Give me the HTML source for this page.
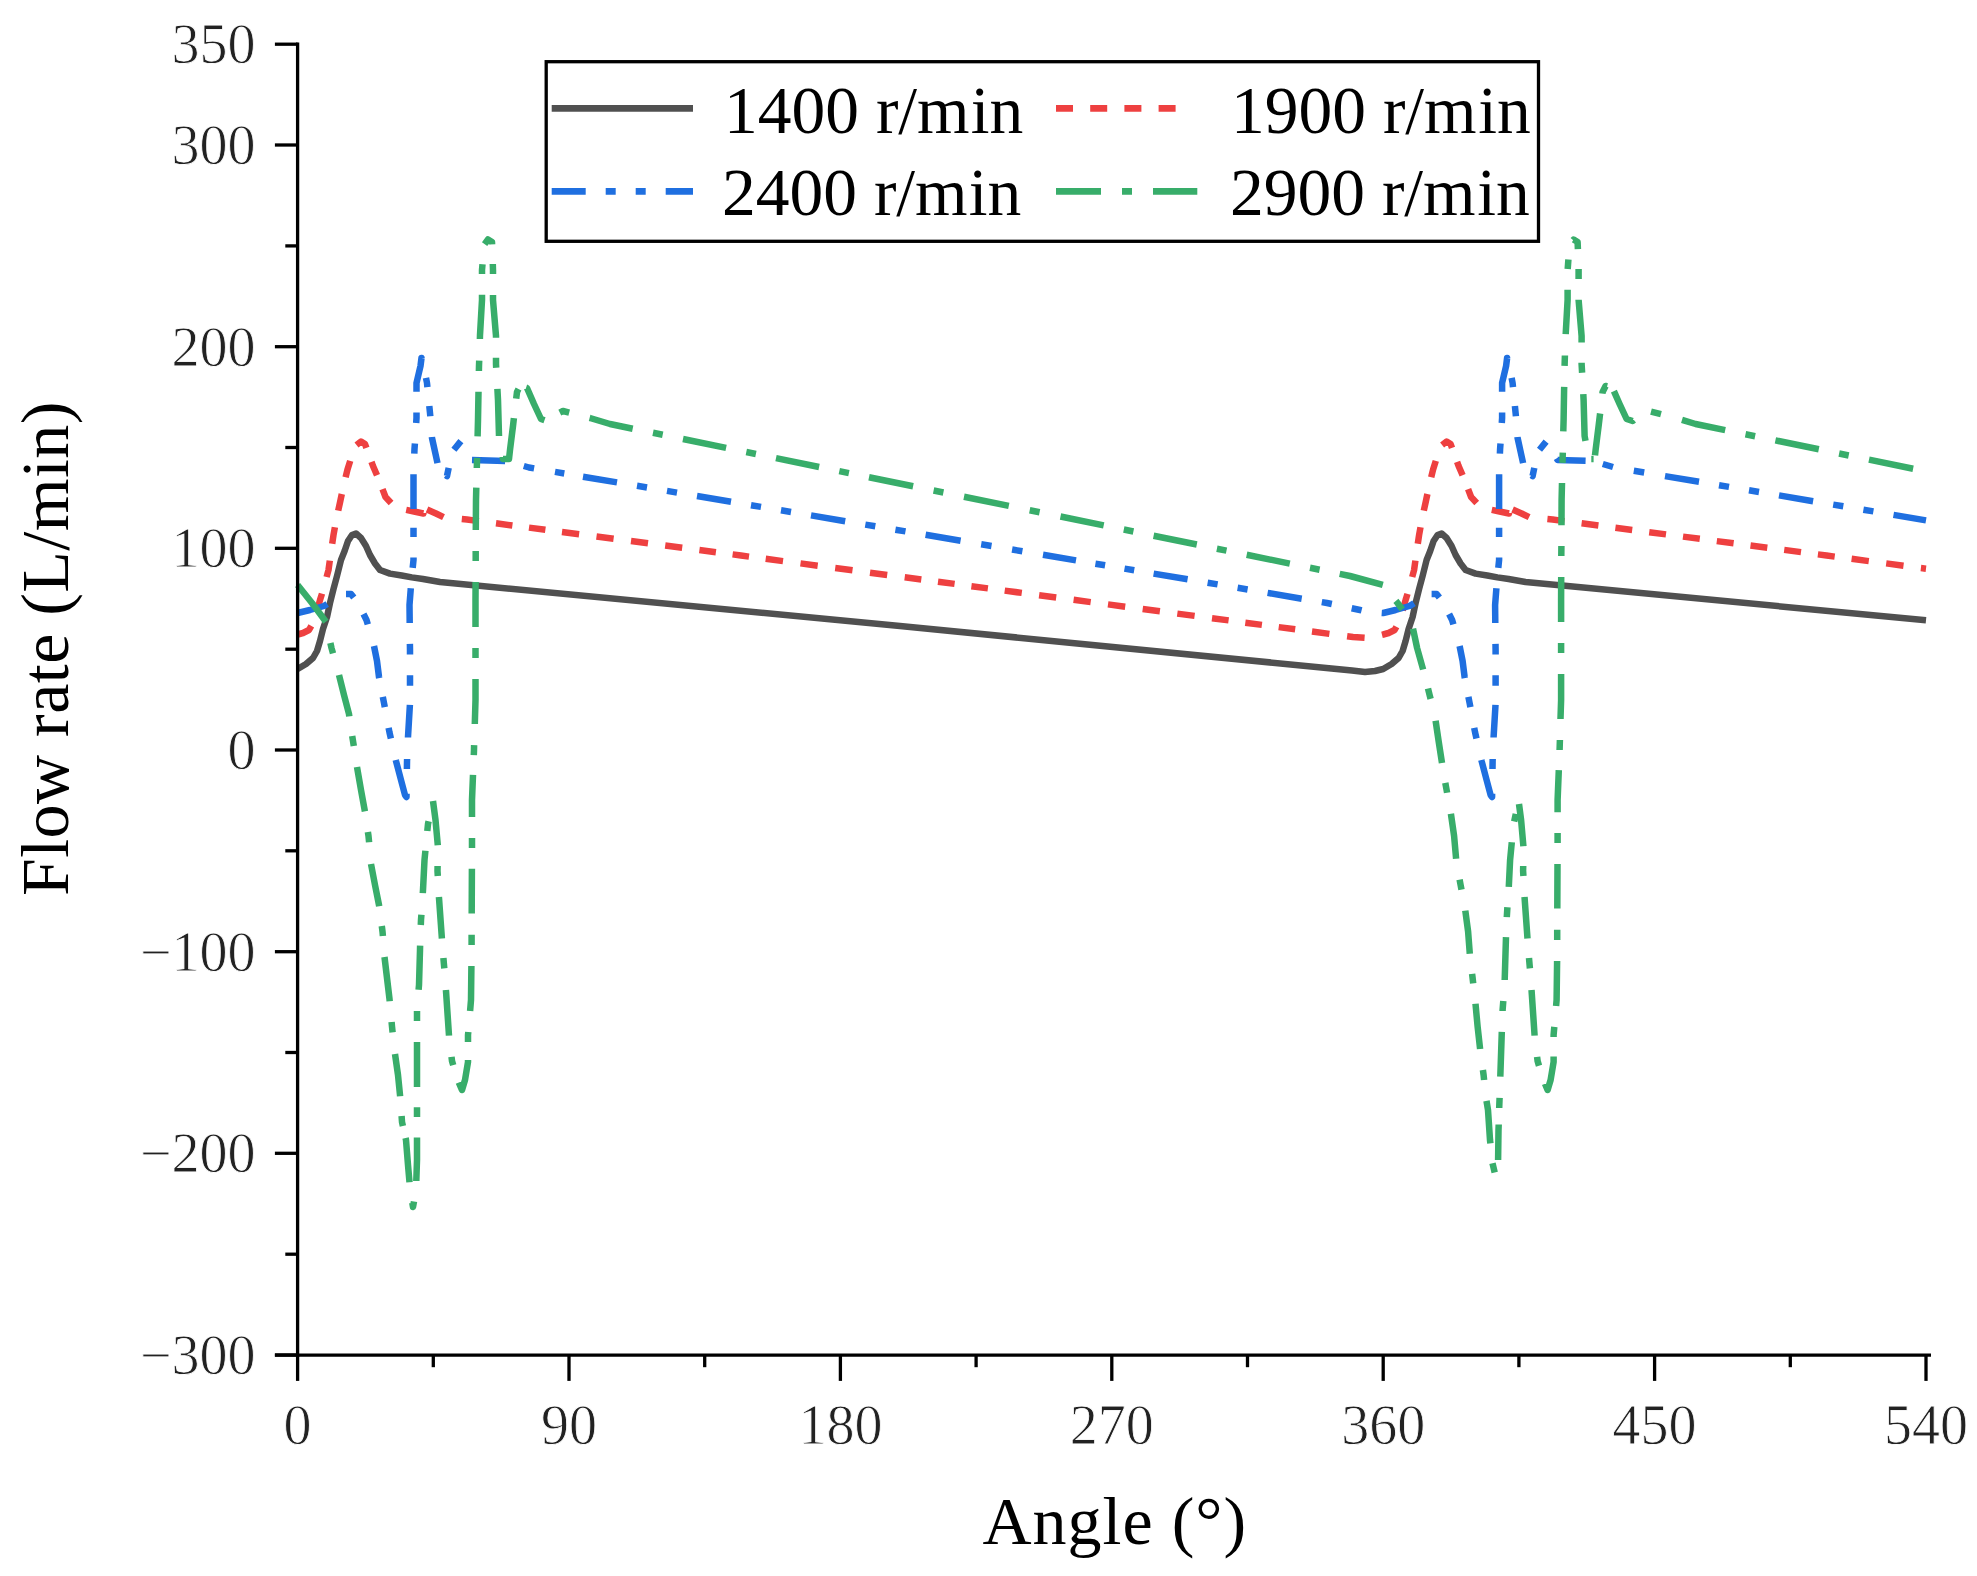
<!DOCTYPE html>
<html><head><meta charset="utf-8"><title>Flow rate vs Angle</title>
<style>html,body{margin:0;padding:0;background:#fff;}body{width:1977px;height:1576px;overflow:hidden;}svg{display:block;}</style>
</head><body>
<svg width="1977" height="1576" viewBox="0 0 1977 1576">
<rect width="1977" height="1576" fill="#fff"/>
<g><path d="M297.6 669.0 L306.0 664.0 L313.0 658.0 L317.0 651.0 L320.0 641.0 L323.0 629.0 L327.0 617.0 L330.0 603.0 L333.5 589.0 L337.0 576.0 L341.0 560.0 L344.6 551.0 L348.0 541.0 L352.0 535.0 L356.0 533.5 L361.0 538.0 L366.0 546.0 L370.0 555.0 L375.0 563.5 L380.0 570.0 L390.0 573.6 L401.7 575.5 L411.8 577.4 L423.0 579.0 L440.0 582.0 L900.0 626.0 L1352.0 670.5 L1365.0 672.0 L1375.0 671.0 L1383.2 669.0 L1391.6 664.0 L1398.6 658.0 L1402.6 651.0 L1405.6 641.0 L1408.6 629.0 L1412.6 617.0 L1415.6 603.0 L1419.1 589.0 L1422.6 576.0 L1426.6 560.0 L1430.2 551.0 L1433.6 541.0 L1437.6 535.0 L1441.6 533.5 L1446.6 538.0 L1451.6 546.0 L1455.6 555.0 L1460.6 563.5 L1465.6 570.0 L1475.6 573.6 L1487.3 575.5 L1497.4 577.4 L1508.6 579.0 L1525.6 582.0 L1926.0 620.3" fill="none" stroke="#505050" stroke-width="6.5" stroke-linejoin="round"/>
<path d="M297.6 634.5 L303.0 633.0 L309.0 630.0 L311.3 625.9 M317.3 609.9 L320.0 600.0 L322.0 593.6 M326.6 577.0 L328.5 570.0 L329.8 560.6 M332.2 543.8 L333.5 535.0 L334.9 527.2 M338.2 510.6 L340.0 502.5 L341.8 494.0 M345.6 477.3 L347.5 469.5 L350.2 460.9 M356.5 445.0 L361.0 441.5 L365.0 444.0 L366.4 447.9 M371.5 461.8 L373.0 466.0 L377.0 475.3 M382.5 489.1 L385.5 497.0 L391.1 503.0 M406.2 509.9 L414.0 511.5 L423.4 513.5 L423.5 512.7 M427.0 509.5 L436.0 513.5 L443.5 517.2 M461.8 519.0 L467.0 519.5 L478.8 521.1 M496.0 523.3 L512.4 525.5 M529.0 527.6 L545.4 529.8 M562.0 532.0 L579.1 534.2 M596.5 536.5 L613.6 538.8 M631.0 541.0 L648.0 543.3 M665.2 545.5 L682.2 547.8 M699.4 550.0 L715.9 552.2 M732.6 554.4 L741.0 555.5 L749.0 556.6 M765.7 558.8 L783.0 561.1 M800.5 563.4 L817.7 565.7 M835.2 568.0 L852.5 570.3 M870.0 572.7 L887.2 575.0 M904.7 577.3 L921.3 579.5 M938.0 581.7 L954.6 583.9 M971.4 586.2 L987.9 588.4 M1004.7 590.6 L1021.8 592.9 M1039.1 595.2 L1056.2 597.5 M1073.6 599.8 L1090.7 602.1 M1108.0 604.4 L1125.2 606.7 M1142.7 609.0 L1159.9 611.3 M1177.3 613.6 L1194.6 615.9 M1212.0 618.2 L1228.6 620.4 M1245.3 622.7 L1261.9 624.9 M1278.7 627.1 L1295.2 629.3 M1312.0 631.5 L1329.4 633.9 M1347.1 636.2 L1353.0 637.0 L1364.6 637.8 M1382.0 634.8 L1383.2 634.5 L1388.6 633.0 L1394.6 630.0 L1396.4 626.7 M1402.7 610.5 L1405.6 600.0 L1407.5 593.9 M1412.2 577.0 L1414.1 570.0 L1415.4 560.6 M1417.8 543.8 L1419.1 535.0 L1420.5 527.2 M1423.8 510.6 L1425.6 502.5 L1427.4 494.0 M1431.2 477.3 L1433.1 469.5 L1435.8 460.9 M1442.1 445.0 L1446.6 441.5 L1450.6 444.0 L1452.0 447.9 M1457.1 461.8 L1458.6 466.0 L1462.6 475.3 M1468.1 489.1 L1471.1 497.0 L1476.7 503.0 M1491.8 509.9 L1499.6 511.5 L1509.0 513.5 L1509.1 512.7 M1512.6 509.5 L1521.6 513.5 L1529.1 517.2 M1547.4 519.0 L1552.6 519.5 L1564.4 521.1 M1581.6 523.3 L1598.4 525.5 M1615.4 527.8 L1632.2 530.0 M1649.2 532.2 L1666.0 534.4 M1683.0 536.6 L1699.8 538.8 M1716.8 541.1 L1733.6 543.3 M1750.5 545.5 L1767.3 547.7 M1784.2 549.9 L1801.0 552.1 M1817.9 554.4 L1826.6 555.5 L1834.7 556.6 M1851.6 558.8 L1868.8 561.1 M1886.2 563.4 L1903.5 565.7 M1920.9 568.1 L1926.0 568.7 L1926.0 568.7" fill="none" stroke="#ee4040" stroke-width="6.5" stroke-linejoin="round"/>
<path d="M297.6 613.0 L310.0 610.0 L324.0 606.0 L327.2 604.0 M346.0 594.0 L351.0 594.0 L353.8 597.6 M363.5 614.0 L366.5 620.0 L367.8 624.4 M374.0 646.0 L377.0 661.0 L379.0 677.0 L379.2 678.1 M382.8 696.8 L384.0 703.0 L384.8 707.2 M388.6 727.9 L389.5 732.5 L390.9 738.6 M395.8 760.0 L396.0 761.0 L401.0 780.0 L405.0 795.0 L406.5 797.0 L406.5 793.7 M406.9 769.0 L407.0 762.0 L407.1 759.0 M408.0 737.4 L408.0 737.0 L409.9 704.9 M410.0 685.7 L410.0 675.3 M410.0 654.4 L410.0 650.0 L409.9 643.9 M409.7 623.0 L409.5 605.0 L410.8 588.3 M412.7 567.9 L413.5 560.0 L413.5 557.6 M413.5 537.0 L413.5 527.7 M413.5 509.0 L413.5 475.0 L413.5 474.2 M414.3 453.7 L414.5 449.0 L414.9 443.5 M416.2 423.0 L416.5 418.0 L416.5 412.6 M416.5 391.8 L416.5 383.0 L420.5 366.0 L421.5 358.0 L421.5 358.1 M426.0 377.8 L427.0 383.0 L427.4 387.1 M429.3 406.0 L430.0 413.0 L430.3 416.3 M431.9 437.0 L432.0 438.0 L437.5 463.1 M445.9 475.2 L447.0 476.0 L448.7 467.9 M453.9 449.7 L460.9 441.1 M472.0 460.0 L505.1 460.9 M523.8 466.0 L529.0 467.5 L534.1 468.4 M555.0 471.9 L564.3 473.5 M583.0 476.7 L617.0 482.4 M637.0 485.8 L647.0 487.5 M667.0 490.9 L677.0 492.6 M697.0 496.0 L731.0 501.8 M751.0 505.2 L761.0 506.9 M781.0 510.3 L791.0 512.0 M811.0 515.4 L845.2 521.2 M865.3 524.6 L875.3 526.3 M895.4 529.7 L905.5 531.4 M925.6 534.8 L960.6 540.8 M981.2 544.3 L991.5 546.0 M1012.1 549.5 L1022.4 551.3 M1043.0 554.8 L1076.0 560.4 M1095.4 563.7 L1105.1 565.3 M1124.5 568.6 L1134.2 570.3 M1153.6 573.6 L1187.6 579.3 M1207.6 582.7 L1217.6 584.4 M1237.6 587.8 L1247.6 589.5 M1267.6 592.9 L1301.7 598.7 M1321.8 602.1 L1327.0 603.0 L1331.8 604.0 M1351.7 608.2 L1360.0 610.0 L1361.6 610.4 M1381.7 612.9 L1383.2 613.0 L1395.6 610.0 L1409.6 606.0 L1414.0 603.2 M1431.6 594.0 L1436.6 594.0 L1439.4 597.6 M1449.1 614.0 L1452.1 620.0 L1453.4 624.4 M1459.6 646.0 L1462.6 661.0 L1464.6 677.0 L1464.8 678.1 M1468.4 696.8 L1469.6 703.0 L1470.4 707.2 M1474.2 727.9 L1475.1 732.5 L1476.5 738.6 M1481.4 760.0 L1481.6 761.0 L1486.6 780.0 L1490.6 795.0 L1492.1 797.0 L1492.1 793.7 M1492.5 769.0 L1492.6 762.0 L1492.7 759.0 M1493.6 737.4 L1493.6 737.0 L1495.5 704.9 M1495.6 685.7 L1495.6 675.3 M1495.6 654.4 L1495.6 650.0 L1495.5 643.9 M1495.3 623.0 L1495.1 605.0 L1496.4 588.3 M1498.3 567.9 L1499.1 560.0 L1499.1 557.6 M1499.1 537.0 L1499.1 527.7 M1499.1 509.0 L1499.1 475.0 L1499.1 474.2 M1499.9 453.7 L1500.1 449.0 L1500.5 443.5 M1501.8 423.0 L1502.1 418.0 L1502.1 412.6 M1502.1 391.8 L1502.1 383.0 L1506.1 366.0 L1507.1 358.0 L1507.1 358.1 M1511.6 377.8 L1512.6 383.0 L1513.0 387.1 M1514.9 406.0 L1515.6 413.0 L1515.9 416.3 M1517.5 437.0 L1517.6 438.0 L1523.1 463.1 M1531.5 475.2 L1532.6 476.0 L1534.3 467.9 M1539.5 449.7 L1546.1 441.6 M1556.6 458.4 L1557.6 460.0 L1585.6 460.8 M1602.8 464.0 L1613.0 467.0 M1633.8 470.8 L1644.2 472.5 M1665.0 476.1 L1699.0 481.8 M1719.0 485.2 L1729.0 486.9 M1749.0 490.3 L1759.0 492.0 M1779.0 495.4 L1813.1 501.2 M1833.2 504.6 L1843.3 506.3 M1863.4 509.7 L1873.4 511.4 M1893.5 514.9 L1926.0 520.4" fill="none" stroke="#1f6fe0" stroke-width="6.5" stroke-linejoin="round"/>
<path d="M297.6 585.0 L312.0 603.0 L325.9 621.8 M330.4 643.0 L331.5 648.0 L333.0 653.4 M339.0 675.0 L344.0 695.0 L349.0 714.0 L349.3 716.3 M352.2 735.9 L353.0 741.0 L353.8 745.9 M357.0 767.0 L361.0 790.0 L364.9 811.3 M367.9 832.0 L368.5 836.0 L369.1 842.3 M371.0 864.0 L375.0 885.0 L379.0 905.0 L379.2 906.2 M381.8 926.0 L382.5 931.5 L382.9 936.0 M384.5 957.0 L387.0 978.0 L389.5 999.0 L389.7 1001.3 M391.6 1022.0 L392.0 1026.5 L392.6 1032.3 M395.0 1054.0 L398.0 1075.0 L400.0 1095.0 L400.1 1096.2 M401.6 1116.0 L402.0 1122.0 L402.9 1125.9 M405.6 1138.0 L406.0 1140.0 L408.0 1165.0 L409.5 1182.2 M412.3 1202.7 L413.0 1207.0 L414.0 1201.5 M416.3 1181.0 L417.0 1160.0 L417.0 1137.4 M417.0 1117.0 L417.0 1107.3 M417.0 1087.0 L417.0 1042.0 M417.0 1021.0 L417.0 1010.9 M418.6 989.7 L419.0 985.0 L420.0 950.0 L420.1 945.6 M420.8 925.0 L421.0 920.0 L421.4 914.7 M422.8 893.1 L423.0 890.0 L424.5 860.0 L425.4 850.7 M427.3 831.0 L428.0 824.0 L428.6 821.3 M433.0 801.0 L435.5 820.0 L437.8 845.2 M437.6 866.0 L437.5 871.0 L437.8 876.0 M438.9 897.0 L439.0 898.0 L441.9 938.6 M443.4 958.0 L444.0 965.0 L444.3 968.4 M445.9 990.0 L446.0 991.0 L449.0 1035.6 M451.5 1056.8 L452.0 1061.0 L453.2 1065.2 M458.8 1082.4 L462.0 1090.0 L465.0 1080.0 L468.0 1062.0 L468.0 1060.1 M468.0 1042.0 L468.0 1035.0 L468.3 1032.0 M470.1 1010.9 L471.0 1000.0 L471.4 966.0 M471.6 945.0 L471.6 934.8 M471.7 913.5 L471.9 868.8 M472.0 848.0 L472.0 838.0 M472.0 817.0 L472.0 800.0 L473.0 774.8 M473.8 755.1 L474.0 750.0 L474.1 745.1 M474.8 724.0 L475.5 700.0 L475.5 679.0 M475.5 658.0 L475.5 648.0 M475.5 627.0 L475.5 600.0 L475.6 582.0 M475.7 561.0 L475.7 551.0 M475.8 530.0 L476.0 500.0 L476.3 487.7 M476.8 468.0 L477.1 457.8 M477.6 436.4 L478.0 420.0 L478.5 391.8 M478.9 371.0 L479.0 366.0 L479.2 360.7 M479.9 339.0 L480.0 335.0 L482.0 300.0 L482.0 294.7 M482.0 274.0 L482.0 270.0 L482.5 264.3 M484.6 244.2 L488.0 239.5 L492.0 242.0 L492.1 244.4 M492.8 264.0 L493.0 270.0 L493.0 274.0 M493.0 295.0 L493.0 300.0 L496.0 336.0 L496.0 337.7 M496.0 357.7 L496.0 364.0 L496.2 367.7 M497.4 388.8 L498.0 400.0 L499.0 436.0 M502.6 456.7 L503.0 459.0 L509.0 459.0 L510.0 450.0 L513.0 426.0 L513.9 418.2 M516.2 398.7 L517.0 392.0 L518.5 389.1 M526.1 387.7 L527.0 388.0 L534.0 404.0 L541.0 419.0 L544.5 420.2 M559.8 412.6 L563.0 411.0 L569.2 412.6 M589.6 417.9 L590.0 418.0 L610.0 424.0 L632.7 428.7 M653.0 432.8 L662.7 434.8 M683.0 439.0 L726.1 447.9 M746.3 452.0 L755.9 454.0 M776.0 458.1 L819.1 467.0 M839.3 471.1 L848.9 473.1 M869.0 477.2 L913.1 486.3 M933.6 490.5 L943.4 492.5 M964.0 496.7 L1008.8 505.9 M1029.7 510.2 L1039.6 512.2 M1060.5 516.5 L1103.7 525.4 M1123.8 529.5 L1133.4 531.5 M1153.6 535.7 L1196.8 544.5 M1216.9 548.7 L1226.5 550.6 M1246.7 554.8 L1289.8 563.6 M1310.0 567.8 L1319.6 569.7 M1339.7 573.9 L1350.0 576.0 L1382.8 584.9 M1395.9 600.9 L1397.6 603.0 L1402.3 609.4 M1413.0 628.6 L1417.1 648.0 L1423.1 669.5 M1428.0 688.5 L1429.6 695.0 L1430.6 698.9 M1435.6 720.8 L1438.6 741.0 L1442.0 763.1 M1445.3 782.8 L1446.6 790.0 L1447.1 792.8 M1450.9 813.7 L1454.1 836.0 L1456.1 858.8 M1459.6 879.7 L1460.6 885.0 L1461.5 889.6 M1465.3 910.6 L1468.1 931.5 L1469.8 953.7 M1472.1 973.8 L1472.6 978.0 L1473.2 983.4 M1475.5 1003.8 L1477.6 1026.5 L1480.1 1049.0 M1482.9 1070.0 L1483.6 1075.0 L1484.1 1080.0 M1486.5 1100.9 L1488.0 1110.0 L1490.0 1140.0 L1490.4 1143.4 M1492.5 1163.2 L1494.7 1172.5 M1498.1 1160.0 L1498.5 1130.0 L1498.7 1124.5 M1499.2 1108.0 L1499.5 1100.0 L1499.6 1097.9 M1500.3 1076.6 L1501.8 1031.9 M1502.6 1011.0 L1502.6 1010.0 L1503.3 1001.0 M1504.7 980.0 L1505.6 950.0 L1506.0 937.1 M1506.8 917.1 L1507.4 907.3 M1508.8 886.8 L1510.1 860.0 L1511.8 842.2 M1514.2 821.5 L1515.8 813.9 M1519.0 804.0 L1521.1 820.0 L1523.4 846.2 M1523.2 866.0 L1523.1 871.0 L1523.4 876.0 M1524.5 897.0 L1524.6 898.0 L1527.5 938.6 M1529.0 958.0 L1529.6 965.0 L1529.9 968.4 M1531.5 990.0 L1531.6 991.0 L1534.6 1035.6 M1537.1 1056.8 L1537.6 1061.0 L1539.0 1065.7 M1545.0 1083.8 L1547.6 1090.0 L1550.6 1080.0 L1553.6 1062.0 L1553.6 1056.5 M1553.6 1037.0 L1553.6 1035.0 L1554.3 1026.9 M1556.1 1005.9 L1556.6 1000.0 L1557.1 961.0 M1557.2 939.9 L1557.2 929.8 M1557.3 908.5 L1557.5 863.9 M1557.6 843.0 L1557.6 833.0 M1557.6 812.3 L1557.6 800.0 L1558.8 770.1 M1559.6 750.1 L1559.6 750.0 L1559.9 740.0 M1560.5 719.0 L1561.1 700.0 L1561.1 674.0 M1561.1 653.0 L1561.1 643.0 M1561.1 622.0 L1561.1 600.0 L1561.2 577.0 M1561.3 556.0 L1561.4 546.0 M1561.5 525.3 L1561.6 500.0 L1562.0 483.0 M1562.5 462.9 L1562.8 452.7 M1563.3 431.4 L1563.6 420.0 L1564.1 390.0 L1564.2 386.9 M1564.6 365.8 L1564.9 355.5 M1565.7 334.1 L1567.6 300.0 L1567.6 289.8 M1567.7 269.1 L1568.4 259.5 M1573.1 240.1 L1573.6 239.5 L1577.6 242.0 L1577.9 249.1 M1578.6 269.0 L1578.6 270.0 L1578.6 279.0 M1578.6 299.8 L1578.6 300.0 L1581.6 336.0 L1581.6 342.5 M1581.6 362.7 L1581.6 364.0 L1582.1 372.8 M1583.3 394.1 L1583.6 400.0 L1584.6 436.0 L1585.5 440.9 M1591.3 459.0 L1593.6 459.0 M1595.0 455.3 L1595.6 450.0 L1598.6 426.0 L1600.1 413.5 M1602.4 393.7 L1602.6 392.0 L1605.6 386.0 L1607.1 386.4 M1613.9 391.1 L1619.6 404.0 L1626.6 419.0 L1632.6 421.0 L1633.9 419.9 M1651.0 411.6 L1661.0 414.2 M1682.0 419.9 L1695.6 424.0 L1725.2 430.1 M1745.5 434.2 L1755.1 436.2 M1775.4 440.4 L1818.8 449.3 M1839.1 453.5 L1848.7 455.5 M1869.0 459.6 L1913.1 468.7" fill="none" stroke="#38ad6a" stroke-width="6.5" stroke-linejoin="round"/></g>
<g><line x1="297.6" y1="42.6" x2="297.6" y2="1356.9" stroke="#000" stroke-width="3.3"/>
<line x1="274.9" y1="1355.2" x2="1931" y2="1355.2" stroke="#000" stroke-width="3.3"/>
<line x1="274.9" y1="1355.0" x2="297.6" y2="1355.0" stroke="#000" stroke-width="3.3"/>
<line x1="285.3" y1="1254.2" x2="297.6" y2="1254.2" stroke="#000" stroke-width="3.3"/>
<line x1="274.9" y1="1153.3" x2="297.6" y2="1153.3" stroke="#000" stroke-width="3.3"/>
<line x1="285.3" y1="1052.5" x2="297.6" y2="1052.5" stroke="#000" stroke-width="3.3"/>
<line x1="274.9" y1="951.7" x2="297.6" y2="951.7" stroke="#000" stroke-width="3.3"/>
<line x1="285.3" y1="850.8" x2="297.6" y2="850.8" stroke="#000" stroke-width="3.3"/>
<line x1="274.9" y1="750.0" x2="297.6" y2="750.0" stroke="#000" stroke-width="3.3"/>
<line x1="285.3" y1="649.2" x2="297.6" y2="649.2" stroke="#000" stroke-width="3.3"/>
<line x1="274.9" y1="548.3" x2="297.6" y2="548.3" stroke="#000" stroke-width="3.3"/>
<line x1="285.3" y1="447.5" x2="297.6" y2="447.5" stroke="#000" stroke-width="3.3"/>
<line x1="274.9" y1="346.7" x2="297.6" y2="346.7" stroke="#000" stroke-width="3.3"/>
<line x1="285.3" y1="245.9" x2="297.6" y2="245.9" stroke="#000" stroke-width="3.3"/>
<line x1="274.9" y1="145.0" x2="297.6" y2="145.0" stroke="#000" stroke-width="3.3"/>
<line x1="274.9" y1="44.2" x2="297.6" y2="44.2" stroke="#000" stroke-width="3.3"/>
<line x1="297.6" y1="1355.2" x2="297.6" y2="1380.9" stroke="#000" stroke-width="3.3"/>
<line x1="433.3" y1="1355.2" x2="433.3" y2="1367.2" stroke="#000" stroke-width="3.3"/>
<line x1="569.0" y1="1355.2" x2="569.0" y2="1380.9" stroke="#000" stroke-width="3.3"/>
<line x1="704.7" y1="1355.2" x2="704.7" y2="1367.2" stroke="#000" stroke-width="3.3"/>
<line x1="840.4" y1="1355.2" x2="840.4" y2="1380.9" stroke="#000" stroke-width="3.3"/>
<line x1="976.1" y1="1355.2" x2="976.1" y2="1367.2" stroke="#000" stroke-width="3.3"/>
<line x1="1111.8" y1="1355.2" x2="1111.8" y2="1380.9" stroke="#000" stroke-width="3.3"/>
<line x1="1247.5" y1="1355.2" x2="1247.5" y2="1367.2" stroke="#000" stroke-width="3.3"/>
<line x1="1383.2" y1="1355.2" x2="1383.2" y2="1380.9" stroke="#000" stroke-width="3.3"/>
<line x1="1518.9" y1="1355.2" x2="1518.9" y2="1367.2" stroke="#000" stroke-width="3.3"/>
<line x1="1654.6" y1="1355.2" x2="1654.6" y2="1380.9" stroke="#000" stroke-width="3.3"/>
<line x1="1790.3" y1="1355.2" x2="1790.3" y2="1367.2" stroke="#000" stroke-width="3.3"/>
<line x1="1926.0" y1="1355.2" x2="1926.0" y2="1380.9" stroke="#000" stroke-width="3.3"/></g>
<g><text x="255.5" y="63.2" text-anchor="end" font-family="Liberation Serif, serif" font-size="56" fill="#222" stroke="#fff" stroke-width="0.8">350</text>
<text x="255.5" y="164.0" text-anchor="end" font-family="Liberation Serif, serif" font-size="56" fill="#222" stroke="#fff" stroke-width="0.8">300</text>
<text x="255.5" y="365.7" text-anchor="end" font-family="Liberation Serif, serif" font-size="56" fill="#222" stroke="#fff" stroke-width="0.8">200</text>
<text x="255.5" y="567.3" text-anchor="end" font-family="Liberation Serif, serif" font-size="56" fill="#222" stroke="#fff" stroke-width="0.8">100</text>
<text x="255.5" y="769.0" text-anchor="end" font-family="Liberation Serif, serif" font-size="56" fill="#222" stroke="#fff" stroke-width="0.8">0</text>
<text x="255.5" y="970.7" text-anchor="end" font-family="Liberation Serif, serif" font-size="56" fill="#222" stroke="#fff" stroke-width="0.8">−100</text>
<text x="255.5" y="1172.3" text-anchor="end" font-family="Liberation Serif, serif" font-size="56" fill="#222" stroke="#fff" stroke-width="0.8">−200</text>
<text x="255.5" y="1374.0" text-anchor="end" font-family="Liberation Serif, serif" font-size="56" fill="#222" stroke="#fff" stroke-width="0.8">−300</text>
<text x="297.6" y="1444" text-anchor="middle" font-family="Liberation Serif, serif" font-size="56" fill="#222" stroke="#fff" stroke-width="0.8">0</text>
<text x="569.0" y="1444" text-anchor="middle" font-family="Liberation Serif, serif" font-size="56" fill="#222" stroke="#fff" stroke-width="0.8">90</text>
<text x="840.4" y="1444" text-anchor="middle" font-family="Liberation Serif, serif" font-size="56" fill="#222" stroke="#fff" stroke-width="0.8">180</text>
<text x="1111.8" y="1444" text-anchor="middle" font-family="Liberation Serif, serif" font-size="56" fill="#222" stroke="#fff" stroke-width="0.8">270</text>
<text x="1383.2" y="1444" text-anchor="middle" font-family="Liberation Serif, serif" font-size="56" fill="#222" stroke="#fff" stroke-width="0.8">360</text>
<text x="1654.6" y="1444" text-anchor="middle" font-family="Liberation Serif, serif" font-size="56" fill="#222" stroke="#fff" stroke-width="0.8">450</text>
<text x="1926.0" y="1444" text-anchor="middle" font-family="Liberation Serif, serif" font-size="56" fill="#222" stroke="#fff" stroke-width="0.8">540</text>
<text x="982.5" y="1543.6" letter-spacing="1" font-family="Liberation Serif, serif" font-size="68" fill="#000">Angle (°)</text>
<text transform="translate(67.7 896) rotate(-90)" x="0" y="0" letter-spacing="0.45" font-family="Liberation Serif, serif" font-size="68" fill="#000">Flow rate (L/min)</text></g>
<g><rect x="546.2" y="61.7" width="992.3" height="179.6" fill="#fff" stroke="#000" stroke-width="3.3"/>
<line x1="551.7" y1="108.4" x2="693" y2="108.4" stroke="#505050" stroke-width="6.7"/>
<line x1="1056" y1="108.4" x2="1177.6" y2="108.4" stroke="#ee4040" stroke-width="6.7" stroke-dasharray="17 17.2"/>
<line x1="551.7" y1="191.4" x2="693" y2="191.4" stroke="#1f6fe0" stroke-width="6.7" stroke-dasharray="34 20 10 20 10 20"/>
<line x1="1056" y1="191.4" x2="1197.3" y2="191.4" stroke="#38ad6a" stroke-width="6.7" stroke-dasharray="45 21 10 21"/>
<text x="724" y="133" font-family="Liberation Serif, serif" font-size="67.5" fill="#000">1400 r/m<tspan dx="1">in</tspan></text>
<text x="722" y="215" font-family="Liberation Serif, serif" font-size="67.5" fill="#000">2400 r/m<tspan dx="1">in</tspan></text>
<text x="1231" y="133" font-family="Liberation Serif, serif" font-size="67.5" fill="#000">1900 r/m<tspan dx="1.5">in</tspan></text>
<text x="1230" y="215" font-family="Liberation Serif, serif" font-size="67.5" fill="#000">2900 r/m<tspan dx="1.5">in</tspan></text></g>
</svg>
</body></html>
